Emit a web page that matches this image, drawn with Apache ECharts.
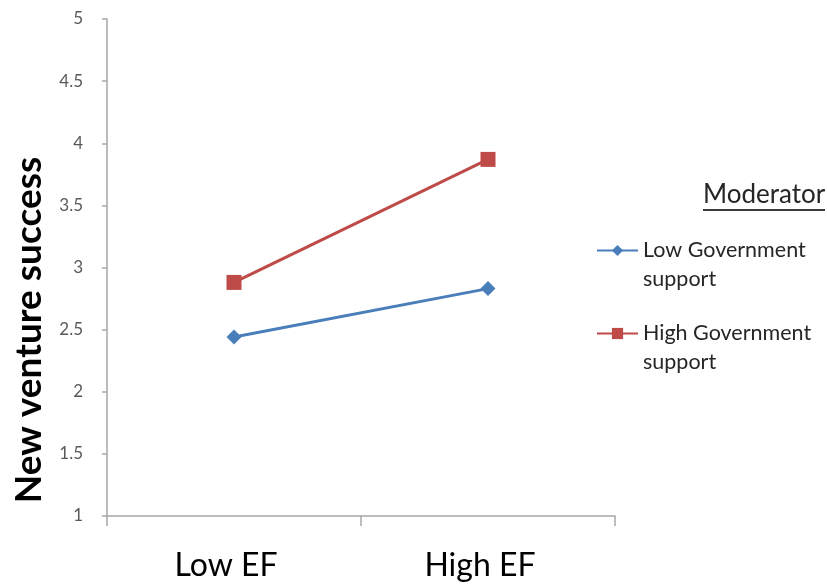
<!DOCTYPE html>
<html><head><meta charset="utf-8">
<script src="https://cdn.jsdelivr.net/npm/echarts@6/dist/echarts.min.js"></script>
<style>html,body{margin:0;padding:0;background:#fff}#c{width:827px;height:588px}</style>
</head><body><div id="c"></div>
<script>
const categories = ['Low EF', 'High EF'];
const lowGov = [2.44, 2.83];
const highGov = [2.88, 3.87];
const seriesNames = ['Low Government\nsupport', 'High Government\nsupport'];
const legendTitle = 'Moderator';
const yName = 'New venture success';

const chart = echarts.init(document.getElementById('c'), null, {renderer: 'canvas'});
const font = 'Lato, "Open Sans", sans-serif';
chart.setOption({
  animation: false,
  backgroundColor: '#fff',
  grid: {left: 107, right: 212, top: 19, bottom: 72, containLabel: false, outerBoundsMode: 'none'},
  xAxis: {
    type: 'category', data: categories,
    axisLine: {lineStyle: {color: '#a6a6a6', width: 1.5}},
    axisTick: {show: true, length: 10, lineStyle: {color: '#a6a6a6', width: 1.5}},
    axisLabel: {color: '#000', fontSize: 32, fontFamily: font, margin: 34, padding: [0, 16, 0, 0]}
  },
  yAxis: {
    type: 'value', min: 1, max: 5, interval: 0.5,
    axisLine: {show: true, lineStyle: {color: '#a6a6a6', width: 1.5}},
    axisTick: {show: true, length: 5, lineStyle: {color: '#a6a6a6', width: 1.5}},
    axisLabel: {color: '#595959', fontSize: 17, fontFamily: font, margin: 24},
    splitLine: {show: false}
  },
  legend: {
    orient: 'vertical', left: 591, top: 202, itemGap: -4,
    itemWidth: 41, itemHeight: 14,
    formatter: function (n) { return '\n' + n; },
    textStyle: {fontSize: 21.5, lineHeight: 29, color: '#262626', fontFamily: font},
    data: seriesNames
  },
  graphic: [
    {type: 'text', x: 29, y: 330, rotation: Math.PI / 2,
     style: {text: yName, fontSize: 37, fontWeight: 'bold', fill: '#000', fontFamily: font, align: 'center', verticalAlign: 'middle'}},
    {type: 'text', left: 703, top: 182, style: {text: legendTitle, fontSize: 26, fill: '#262626', fontFamily: font}},
    {type: 'rect', left: 703, top: 209, shape: {width: 122, height: 2}, style: {fill: '#3a3a3a'}}
  ],
  series: [
    {name: seriesNames[0], type: 'line', data: lowGov, symbol: 'diamond', symbolSize: 15,
     lineStyle: {color: '#4a7ebb', width: 3}, itemStyle: {color: '#4a7ebb'}},
    {name: seriesNames[1], type: 'line', data: highGov, symbol: 'rect', symbolSize: 15,
     lineStyle: {color: '#be4b48', width: 3}, itemStyle: {color: '#be4b48'}}
  ]
});
</script></body></html>
